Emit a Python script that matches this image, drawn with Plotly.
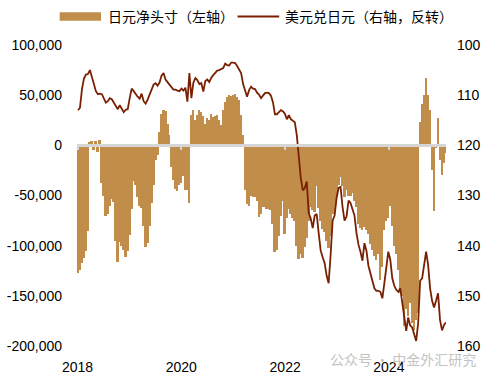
import pandas as pd
import plotly.graph_objects as go

# ---------------- data (bi-weekly) ----------------
start_date = "2018-01-04"
n_periods = 186

jpy_net_position = [
    -127000, -124000, -117000, -112000, -105000, -85000, 3000, 4000, -5000, 4000,
    -7000, 5000, -38000, -50000, -70000, -68000, -60000, -53000, -56000, -95000,
    -116000, -96000, -100000, -104000, -111000, -105000, -89000, -63000, -36000, -40000,
    -51000, -60000, -62000, -80000, -101000, -97000, -80000, -57000, -40000, -15000,
    -10000, 13000, 31000, 35000, 34000, 21000, 10000, -22000, -35000, -44000,
    -46000, -40000, -38000, -31000, -45000, -45000, -57000, 30000, 35000, 25000,
    30000, 35000, 33000, 29000, 21000, 27000, 25000, 31000, 28000, 29000,
    30000, 25000, 20000, 35000, 43000, 48000, 50000, 49000, 50000, 51000,
    48000, 45000, 30000, 10000, -45000, -58000, -60000, -50000, -51000, -51000,
    -55000, -71000, -68000, -61000, -61000, -63000, -63000, -64000, -78000, -106000,
    -104000, -90000, -70000, -55000, -88000, -72000, -63000, -68000, -72000, -75000,
    -100000, -113000, -108000, -112000, -101000, -92000, -75000, -61000, -64000, -66000,
    -41000, -62000, -75000, -83000, -86000, -95000, -102000, -90000, -68000, -65000,
    -50000, -40000, -32000, -41000, -51000, -45000, -50000, -50000, -48000, -55000,
    -61000, -78000, -82000, -84000, -81000, -84000, -88000, -98000, -104000, -110000,
    -114000, -108000, -134000, -121000, -84000, -75000, -72000, -60000, -80000, -100000,
    -108000, -124000, -147000, -150000, -180000, -163000, -170000, -157000, -177000, -184000,
    -174000, -167000, 23000, 41000, 50000, 67000, 50000, 35000, -25000, -65000,
    -3000, 27000, -15000, -30000, -18000, -8000,
]

usdjpy = [
    113.0, 112.5, 108.8, 106.7, 105.9, 105.8, 105.0, 106.4, 107.8, 109.2,
    109.8, 109.7, 109.8, 110.5, 111.5, 111.2, 110.6, 110.8, 111.5, 112.4,
    112.8, 112.0, 112.7, 113.4, 112.9, 112.8, 110.6, 108.7, 109.2, 109.8,
    110.3, 110.7, 109.7, 111.2, 111.7, 110.9, 109.9, 108.7, 107.9, 107.6,
    108.1, 107.5, 106.1, 105.6, 106.9, 107.4, 107.8, 108.4, 108.9, 108.9,
    109.1, 109.2, 108.7, 109.1, 108.5, 111.3, 105.6, 110.6, 107.5, 106.6,
    107.0, 107.8, 107.6, 109.3, 107.2, 106.9, 107.4, 106.5, 106.0, 105.5,
    105.1, 105.0, 104.8, 104.6, 103.7, 104.0, 104.1, 103.5, 103.5, 103.6,
    104.2, 104.9, 105.6, 107.8, 108.9, 110.3, 109.0, 108.3, 108.7, 108.8,
    109.5, 109.9, 110.6, 110.0, 109.6, 109.5, 109.6, 110.1, 111.4, 113.8,
    113.8, 113.4, 113.0, 113.2, 113.7, 114.8, 114.0, 114.8, 115.1, 115.4,
    118.0, 122.5, 126.5, 129.0, 128.5, 127.2, 133.5, 134.6, 136.5, 134.0,
    133.7, 137.5, 141.0, 142.3, 143.5, 146.0, 147.5, 141.8, 135.0, 134.0,
    130.5, 128.5, 128.3, 132.3, 135.0, 134.2, 131.0, 131.5, 132.6, 134.0,
    137.5, 139.8, 141.2, 143.0, 139.5, 141.0, 144.0, 145.5, 147.5, 148.5,
    149.0, 149.0, 149.2, 150.5, 147.5, 143.8, 141.2, 142.8, 146.5, 148.0,
    148.8, 149.2, 148.5, 151.3, 154.0, 157.0, 154.3, 155.9, 156.3, 157.8,
    159.0, 155.5, 147.0, 146.5, 143.5, 141.2, 143.8, 148.5, 151.0, 152.3,
    151.0, 149.5, 154.8, 156.9, 155.8, 155.3,
]

left_tick_vals = [100000, 50000, 0, -50000, -100000, -150000, -200000]
left_tick_text = ["100,000", "50,000", "0", "-50,000", "-100,000", "-150,000", "-200,000"]
right_tick_vals = [100, 110, 120, 130, 140, 150, 160]
year_tick_vals = ["2018-01-01", "2020-01-01", "2022-01-01", "2024-01-01"]
year_tick_text = ["2018", "2020", "2022", "2024"]

bar_name = "日元净头寸（左轴）"
line_name = "美元兑日元（右轴，反转）"
watermark = "公众号 · 中金外汇研究"

dates = pd.date_range(start_date, periods=n_periods, freq="14D")

BAR_COLOR = "#C08E4A"
LINE_COLOR = "#7A2002"
AXIS_GRAY = "#d6d6d6"
FONT = "Liberation Sans, Arial, Noto Sans CJK SC, sans-serif"
CJK = "Noto Sans CJK SC, Liberation Sans, sans-serif"
x_range = ["2017-12-28", "2025-02-06"]

fig = go.Figure()
fig.add_trace(go.Bar(
    x=dates, y=jpy_net_position, name=bar_name,
    marker=dict(color=BAR_COLOR, line=dict(width=0)),
    xaxis="x", yaxis="y", showlegend=False,
))
fig.add_trace(go.Scatter(
    x=dates, y=usdjpy, name=line_name, mode="lines",
    line=dict(color=LINE_COLOR, width=1.8),
    xaxis="x2", yaxis="y2", showlegend=False,
))

fig.update_layout(
    width=485, height=379,
    margin=dict(l=77, r=39, t=45, b=33, autoexpand=False),
    paper_bgcolor="white", plot_bgcolor="white",
    bargap=0,
    font=dict(family=FONT, size=14, color="#000000"),
    xaxis=dict(
        type="date", range=x_range, tickvals=year_tick_vals, ticktext=year_tick_text,
        showgrid=False, zeroline=False, showline=False, ticks="", automargin=False,
        ticklabelstandoff=11, tickfont=dict(size=14, color="#000"),
    ),
    xaxis2=dict(
        type="date", range=x_range, overlaying="x", anchor="free", position=2 / 3,
        tickvals=year_tick_vals, showticklabels=False, automargin=False,
        showgrid=False, zeroline=False, showline=True, linecolor=AXIS_GRAY, linewidth=2.5,
        ticks="outside", ticklen=3, tickwidth=2, tickcolor=AXIS_GRAY,
    ),
    yaxis=dict(
        range=[-200000, 100000], tickvals=left_tick_vals, ticktext=left_tick_text,
        showgrid=False, zeroline=False, showline=False, ticks="", automargin=False,
        ticklabelstandoff=14, tickfont=dict(size=14, color="#000"),
    ),
    yaxis2=dict(
        range=[160, 100], overlaying="y", side="right", anchor="x2", automargin=False,
        tickvals=right_tick_vals, showgrid=False, zeroline=False, showline=False, ticks="",
        ticklabelstandoff=10, tickfont=dict(size=14, color="#000"),
    ),
    showlegend=False,
)

# custom legend (top)
fig.add_shape(type="rect", xref="paper", yref="paper",
              x0=-0.047, x1=0.065, y0=1.0807, y1=1.1086,
              fillcolor=BAR_COLOR, line=dict(width=0))
fig.add_annotation(xref="paper", yref="paper", x=0.079, y=1.0947, text=bar_name,
                   showarrow=False, xanchor="left", yanchor="middle",
                   font=dict(family=CJK, size=14, color="#000"))
fig.add_shape(type="line", xref="paper", yref="paper",
              x0=0.435, x1=0.548, y0=1.0947, y1=1.0947,
              line=dict(color=LINE_COLOR, width=2))
fig.add_annotation(xref="paper", yref="paper", x=0.557, y=1.0947, text=line_name,
                   showarrow=False, xanchor="left", yanchor="middle",
                   font=dict(family=CJK, size=14, color="#000"))

# watermark
fig.add_annotation(xref="paper", yref="paper", x=0.681, y=-0.043, text=watermark,
                   showarrow=False, xanchor="left", yanchor="middle",
                   font=dict(family=CJK, size=14, color="#c4c4c4"))

fig.write_html("out.html",
               config={"displayModeBar": False},
               post_script="document.body.style.margin='0';document.body.style.padding='0';")
